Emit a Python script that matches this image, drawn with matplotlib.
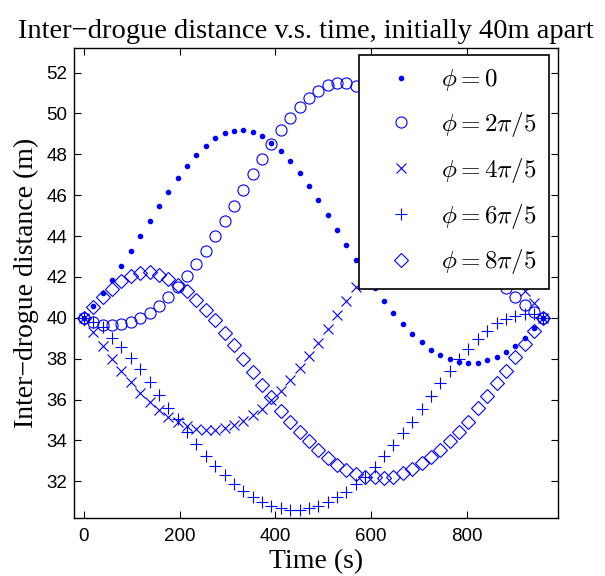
import numpy as np
import matplotlib
matplotlib.use("Agg")
import matplotlib.pyplot as plt

plt.rcParams['mathtext.fontset'] = 'cm'

# time samples (s)
time_s = np.linspace(0, 960, 50)

dist_phi0 = [40.00, 40.57, 41.20, 41.84, 42.55, 43.27, 44.01, 44.76, 45.49, 46.18,
             46.85, 47.45, 47.97, 48.43, 48.79, 49.03, 49.16, 49.20, 49.10, 48.89,
             48.57, 48.17, 47.66, 47.09, 46.45, 45.77, 45.05, 44.32, 43.57, 42.85,
             42.13, 41.45, 40.81, 40.22, 39.68, 39.21, 38.80, 38.43, 38.17, 37.97,
             37.84, 37.79, 37.81, 37.92, 38.07, 38.33, 38.64, 39.03, 39.49, 40.00]

dist_phi2 = [40.00, 39.78, 39.67, 39.64, 39.69, 39.80, 39.99, 40.25, 40.58, 41.01,
             41.50, 42.05, 42.65, 43.28, 44.01, 44.74, 45.48, 46.26, 47.04, 47.78,
             48.53, 49.18, 49.77, 50.31, 50.78, 51.12, 51.38, 51.48, 51.48, 51.36,
             51.12, 50.78, 50.33, 49.80, 49.20, 48.55, 47.85, 47.10, 46.33, 45.55,
             44.77, 44.00, 43.27, 42.58, 41.98, 41.45, 41.04, 40.63, 40.30, 40.00]

dist_phi4 = [40.00, 39.30, 38.62, 38.01, 37.41, 36.84, 36.33, 35.88, 35.49, 35.16,
             34.92, 34.71, 34.56, 34.51, 34.51, 34.60, 34.74, 34.97, 35.23, 35.55,
             36.00, 36.44, 36.96, 37.53, 38.13, 38.77, 39.44, 40.13, 40.84, 41.53,
             42.20, 42.85, 43.45, 44.00, 44.45, 44.80, 45.05, 45.15, 45.10, 44.95,
             44.70, 44.35, 43.90, 43.40, 42.90, 42.40, 41.85, 41.30, 40.71, 40.00]

dist_phi6 = [40.00, 39.79, 39.53, 39.02, 38.55, 38.02, 37.48, 36.85, 36.24, 35.61,
             35.03, 34.43, 33.81, 33.24, 32.75, 32.31, 31.88, 31.52, 31.25, 31.00,
             30.79, 30.68, 30.60, 30.60, 30.68, 30.79, 30.99, 31.25, 31.49, 31.87,
             32.23, 32.68, 33.22, 33.78, 34.35, 34.92, 35.54, 36.18, 36.80, 37.41,
             37.97, 38.49, 38.96, 39.37, 39.73, 39.96, 40.11, 40.17, 40.17, 40.00]

dist_phi8 = [40.00, 40.52, 41.00, 41.42, 41.78, 42.05, 42.20, 42.22, 42.12, 41.92,
             41.61, 41.30, 40.86, 40.38, 39.88, 39.28, 38.66, 37.99, 37.35, 36.70,
             36.13, 35.45, 34.90, 34.40, 33.95, 33.52, 33.13, 32.80, 32.55, 32.38,
             32.23, 32.20, 32.18, 32.23, 32.39, 32.60, 32.88, 33.20, 33.53, 33.99,
             34.43, 34.92, 35.57, 36.18, 36.79, 37.41, 38.07, 38.72, 39.36, 40.00]

labels = [r'$\phi = 0$', r'$\phi = 2\pi/5$', r'$\phi = 4\pi/5$',
          r'$\phi = 6\pi/5$', r'$\phi = 8\pi/5$']
xticks = [0, 200, 400, 600, 800]
yticks = [32, 34, 36, 38, 40, 42, 44, 46, 48, 50, 52]

blue = '#0000ff'
fig = plt.figure(figsize=(6.05, 5.76), dpi=100)
ax = fig.add_axes([74.3 / 605, (576 - 518.3) / 576, 484 / 605, 470.6 / 576])

ax.plot(time_s, dist_phi0, linestyle='none', marker='.', ms=6, color=blue, label=labels[0])
ax.plot(time_s, dist_phi2, linestyle='none', marker='o', ms=8, mfc='none', mec=blue, mew=0.8, label=labels[1])
ax.plot(time_s, dist_phi4, linestyle='none', marker='x', ms=6.5, mec=blue, mew=0.8, label=labels[2])
ax.plot(time_s, dist_phi6, linestyle='none', marker='+', ms=8.5, mec=blue, mew=0.8, label=labels[3])
ax.plot(time_s, dist_phi8, linestyle='none', marker='D', ms=7, mfc='none', mec=blue, mew=0.8, label=labels[4])

ax.set_xlim(-20, 991)
ax.set_ylim(30.19, 53.22)
ax.set_xticks(xticks)
ax.set_yticks(yticks)
ax.tick_params(direction='in', top=True, right=True, length=5, width=0.8, labelsize=13.5)
ax.tick_params(axis='x', pad=7)
ax.tick_params(axis='y', pad=5)
for lab in ax.get_xticklabels() + ax.get_yticklabels():
    lab.set_family('Liberation Sans')
for s in ax.spines.values():
    s.set_linewidth(1.0)

serif = 'Liberation Serif'
ax.set_title('Inter\u2212drogue distance v.s. time, initially 40m apart', fontsize=20.5,
             family=serif, pad=7, x=0.479)
ax.set_xlabel('Time (s)', fontsize=20, family=serif, labelpad=3)
ax.set_ylabel('Inter\u2212drogue distance (m)', fontsize=20, family=serif, labelpad=5)

leg = ax.legend(loc='upper right', bbox_to_anchor=(0.981, 0.9845), borderaxespad=0,
                fontsize=18, fancybox=False, framealpha=1, edgecolor='black',
                labelspacing=0.67, handlelength=2.4, handletextpad=0.4, borderpad=0.5,
                numpoints=1)
leg.get_frame().set_linewidth(1.2)

fig.savefig('out.png', dpi=100)
